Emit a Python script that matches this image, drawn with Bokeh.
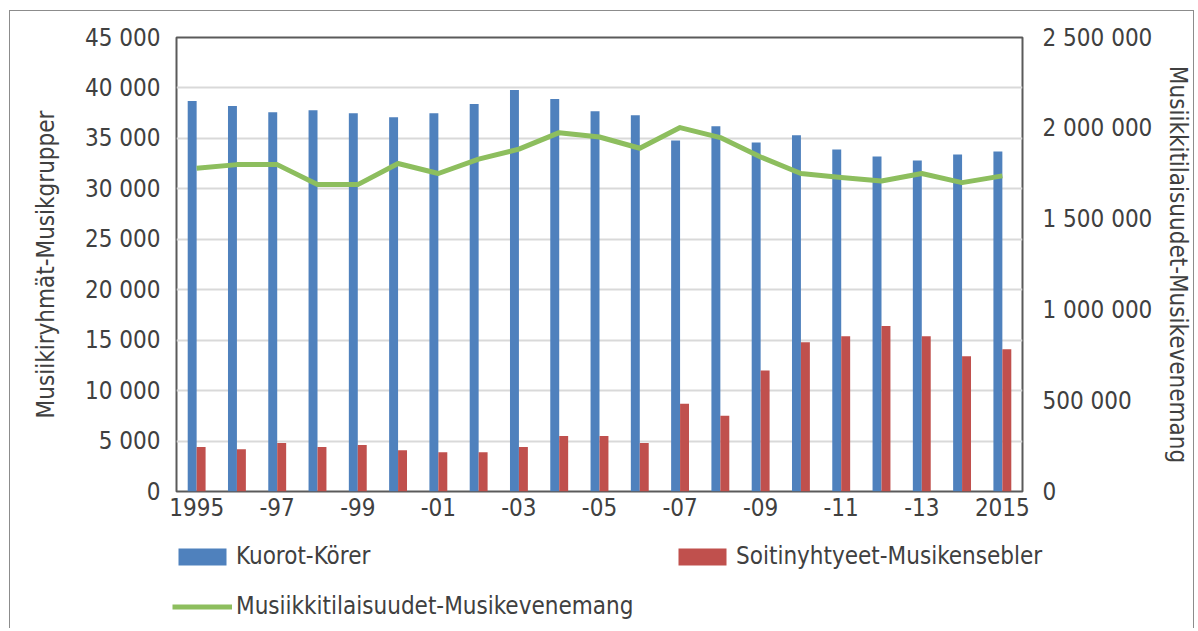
from bokeh.plotting import figure
from bokeh.models import (Range1d, LinearAxis, FixedTicker, Legend, LegendItem,
                          ColumnDataSource)
from bokeh.transform import dodge
from bokeh.embed import file_html
from bokeh.resources import INLINE

years = list(range(1995, 2016))
choirs = [38700, 38200, 37600, 37800, 37500, 37100, 37500, 38400, 39800, 38900,
          37700, 37300, 34800, 36200, 34600, 35300, 33900, 33200, 32800, 33400, 33700]
ensembles = [4400, 4200, 4800, 4400, 4600, 4100, 3900, 3900, 4400, 5500,
             5500, 4800, 8700, 7500, 12000, 14800, 15400, 16400, 15400, 13400, 14100]
events = [1780000, 1800000, 1800000, 1690000, 1690000, 1806000, 1751000, 1830000,
          1885000, 1976000, 1952000, 1890000, 2004000, 1949000, 1842000, 1751000,
          1729000, 1710000, 1751000, 1701000, 1738000]

x_tick_years = [1995, 1997, 1999, 2001, 2003, 2005, 2007, 2009, 2011, 2013, 2015]
x_tick_labels = ["1995", "-97", "-99", "-01", "-03", "-05", "-07", "-09", "-11", "-13", "2015"]
left_ticks = [0, 5000, 10000, 15000, 20000, 25000, 30000, 35000, 40000, 45000]
left_labels = ["0", "5 000", "10 000", "15 000", "20 000", "25 000", "30 000",
               "35 000", "40 000", "45 000"]
right_ticks = [0, 500000, 1000000, 1500000, 2000000, 2500000]
right_labels = ["0", "500 000", "1 000 000", "1 500 000", "2 000 000", "2 500 000"]

left_title = "Musiikiryhmät-Musikgrupper"
right_title = "Musiikkitilaisuudet-Musikevenemang"
name_choirs = "Kuorot-Körer"
name_ensembles = "Soitinyhtyeet-Musikensebler"
name_events = "Musiikkitilaisuudet-Musikevenemang"

FONT = "'DejaVu Sans Condensed', 'Liberation Sans Narrow', Lato, sans-serif"
TXT = "#404040"
BLUE = "#4F81BD"
RED = "#C0504D"
GREEN = "#8DBE5E"
BORDER = "1px solid #8c8c8c"

src = ColumnDataSource(dict(year=years, choirs=choirs, ensembles=ensembles, events=events))

p = figure(width=1185, height=514, output_backend="svg", toolbar_location=None,
           x_range=Range1d(1994.5, 2015.5), y_range=Range1d(0, 45000),
           min_border_left=166, min_border_right=169, min_border_top=26,
           min_border_bottom=34)
p.extra_y_ranges = {"right": Range1d(0, 2500000)}
p.styles = {"margin-left": "9px", "margin-top": "10px",
            "border-top": BORDER, "border-left": BORDER, "border-right": BORDER}

p.background_fill_color = "white"
p.border_fill_color = "white"
p.outline_line_color = "#5a5a5a"
p.outline_line_width = 2

p.xgrid.visible = False
p.ygrid.ticker = FixedTicker(ticks=left_ticks)
p.ygrid.grid_line_color = "#d9d9d9"
p.ygrid.grid_line_width = 2

r_blue = p.vbar(x=dodge("year", -0.111, range=p.x_range), top="choirs", width=0.222,
                source=src, fill_color=BLUE, line_color=None)
r_red = p.vbar(x=dodge("year", 0.111, range=p.x_range), top="ensembles", width=0.222,
               source=src, fill_color=RED, line_color=None)
r_green = p.line(x="year", y="events", source=src, y_range_name="right",
                 line_color=GREEN, line_width=5, line_join="round")

ax = p.xaxis[0]
ax.ticker = FixedTicker(ticks=x_tick_years)
ax.major_label_overrides = {y: l for y, l in zip(x_tick_years, x_tick_labels)}
ay = p.yaxis[0]
ay.ticker = FixedTicker(ticks=left_ticks)
ay.major_label_overrides = {t: l for t, l in zip(left_ticks, left_labels)}
ay.axis_label = left_title
ay.axis_label_standoff = 22

ry = LinearAxis(y_range_name="right", ticker=FixedTicker(ticks=right_ticks))
ry.major_label_overrides = {t: l for t, l in zip(right_ticks, right_labels)}
ry.axis_label = right_title
ry.axis_label_standoff = 9
p.add_layout(ry, "right")

for a in [ax, ay, ry]:
    a.axis_line_color = None
    a.major_tick_line_color = None
    a.minor_tick_line_color = None
    a.major_label_text_font = FONT
    a.major_label_text_font_size = "24px"
    a.major_label_text_color = TXT
    a.axis_label_text_font = FONT
    a.axis_label_text_font_size = "24px"
    a.axis_label_text_font_style = "normal"
    a.axis_label_text_color = TXT
ax.major_label_standoff = 0
ay.major_label_standoff = 10
ry.major_label_standoff = 14

# legend strip below the chart: hidden copies of the series renderers feed the legend
lf = figure(width=1185, height=104, output_backend="svg", toolbar_location=None,
            x_range=Range1d(1994.5, 2015.5), y_range=Range1d(0, 45000),
            min_border_left=0, min_border_right=0, min_border_top=0, min_border_bottom=0)
lf.extra_y_ranges = {"right": Range1d(0, 2500000)}
lf.axis.visible = False
lf.grid.visible = False
lf.outline_line_color = None
lf.background_fill_color = "white"
lf.border_fill_color = "white"
lf.styles = {"margin-left": "9px", "border-left": BORDER, "border-right": BORDER}
l_blue = lf.vbar(x="year", top="choirs", width=0.222, source=src,
                 fill_color=BLUE, line_color=None, visible=False)
l_red = lf.vbar(x="year", top="ensembles", width=0.222, source=src,
                fill_color=RED, line_color=None, visible=False)
l_green = lf.line(x="year", y="events", source=src, y_range_name="right",
                  line_color=GREEN, line_width=5, visible=False)

legend = Legend(items=[LegendItem(label=name_choirs, renderers=[l_blue]),
                       LegendItem(label=name_ensembles, renderers=[l_red]),
                       LegendItem(label=name_events, renderers=[l_green])],
                orientation="horizontal", ncols=2, location=(162, 8),
                glyph_width=60, glyph_height=21, label_standoff=4,
                label_width=414, label_height=28, spacing=22, padding=0, margin=0,
                border_line_color=None, background_fill_alpha=0,
                label_text_font=FONT, label_text_font_size="24px",
                label_text_color=TXT)
lf.add_layout(legend, "center")

open("out.html", "w").write(file_html([p, lf], INLINE))
